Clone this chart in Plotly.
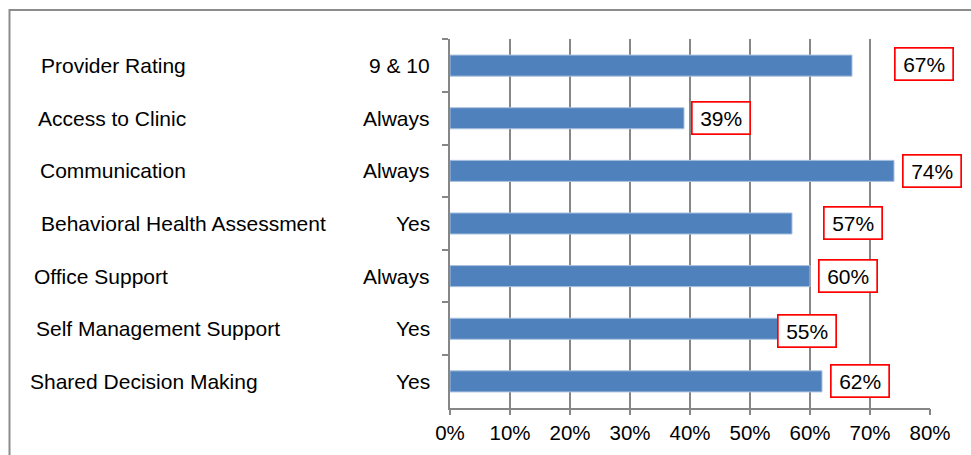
import plotly.graph_objects as go

# ---- data ----
categories = ["Provider Rating", "Access to Clinic", "Communication",
              "Behavioral Health Assessment", "Office Support",
              "Self Management Support", "Shared Decision Making"]
answers = ["9 & 10", "Always", "Always", "Yes", "Always", "Yes", "Yes"]
values_pct = [67, 39, 74, 57, 60, 55, 62]
x_ticks_pct = [0, 10, 20, 30, 40, 50, 60, 70, 80]

# ---- layout helpers (styling / placement, not data) ----
W, H = 971, 455
label_x_pct = [79.0, 45.2, 80.3, 67.2, 66.3, 59.5, 68.3]   # where the boxed labels sit
label_yshift = [2, 0, 0, 0, 0, -2, 0]
name_left_px = [39, 36, 38, 39, 32, 34, 28]                 # left edge of each category name
answer_right_px = 432
FONT = "Liberation Sans, Arial, sans-serif"
GRID = "#868686"
BAR = "#4F81BD"
X_MAX = 80

x0_px, x1_px = 450, 930
y_top_px, y_bot_px = 39.3, 407.7
xd0, xd1 = x0_px / W, x1_px / W

values = [v / 100 for v in values_pct]

fig = go.Figure()
fig.add_trace(go.Bar(
    x=values, y=categories, orientation="h",
    marker=dict(color=BAR, line=dict(color="#A9C1DF", width=1)),
    width=0.4, hoverinfo="skip", showlegend=False,
))

annotations = []
for cat, ans, nx in zip(categories, answers, name_left_px):
    annotations.append(dict(
        x=nx / W, xref="paper", y=cat, yref="y", text=cat, showarrow=False,
        xanchor="left", yanchor="middle", font=dict(family=FONT, size=21, color="black")))
    annotations.append(dict(
        x=answer_right_px / W, xref="paper", y=cat, yref="y", text=ans, showarrow=False,
        xanchor="right", yanchor="middle", font=dict(family=FONT, size=21, color="black")))
for cat, lx, ys, v in zip(categories, label_x_pct, label_yshift, values_pct):
    annotations.append(dict(
        x=xd0 + (xd1 - xd0) * lx / X_MAX, xref="paper", y=cat, yref="y", yshift=ys,
        text=f"{v}%", showarrow=False,
        xanchor="center", yanchor="middle", width=57, height=31, borderpad=0,
        bordercolor="#FF0000", borderwidth=1.7, bgcolor="white",
        font=dict(family=FONT, size=21, color="black")))

fig.update_layout(
    template="none",
    width=W, height=H, autosize=False,
    margin=dict(l=0, r=0, t=0, b=0, pad=0),
    paper_bgcolor="white", plot_bgcolor="white",
    bargap=0.6,
    xaxis=dict(
        domain=[xd0, xd1], range=[0, X_MAX / 100], automargin=False,
        tickvals=[t / 100 for t in x_ticks_pct],
        ticktext=[f"{t}%" for t in x_ticks_pct],
        showgrid=True, gridcolor=GRID, gridwidth=1.5,
        showline=True, linecolor=GRID, linewidth=1.5,
        ticks="outside", ticklen=6, tickcolor=GRID, tickwidth=1.5,
        zeroline=False, fixedrange=True,
        tickfont=dict(family=FONT, size=20.5, color="black"),
    ),
    yaxis=dict(
        domain=[1 - y_bot_px / H, 1 - y_top_px / H], automargin=False,
        autorange="reversed", type="category",
        showticklabels=False, showgrid=False, zeroline=False,
        showline=True, linecolor=GRID, linewidth=1.5,
        ticks="outside", ticklen=6, tickcolor=GRID, tickwidth=1.5,
        tickson="boundaries", fixedrange=True,
    ),
    annotations=annotations,
    shapes=[dict(type="rect", xref="paper", yref="paper",
                 x0=9.5 / W, x1=1.05, y0=-0.05, y1=1 - 10 / H,
                 line=dict(color="#8C8C8C", width=2), layer="below")],
)

fig.write_html("out.html", config={"displayModeBar": False},
               post_script="document.body.style.margin='0';")
